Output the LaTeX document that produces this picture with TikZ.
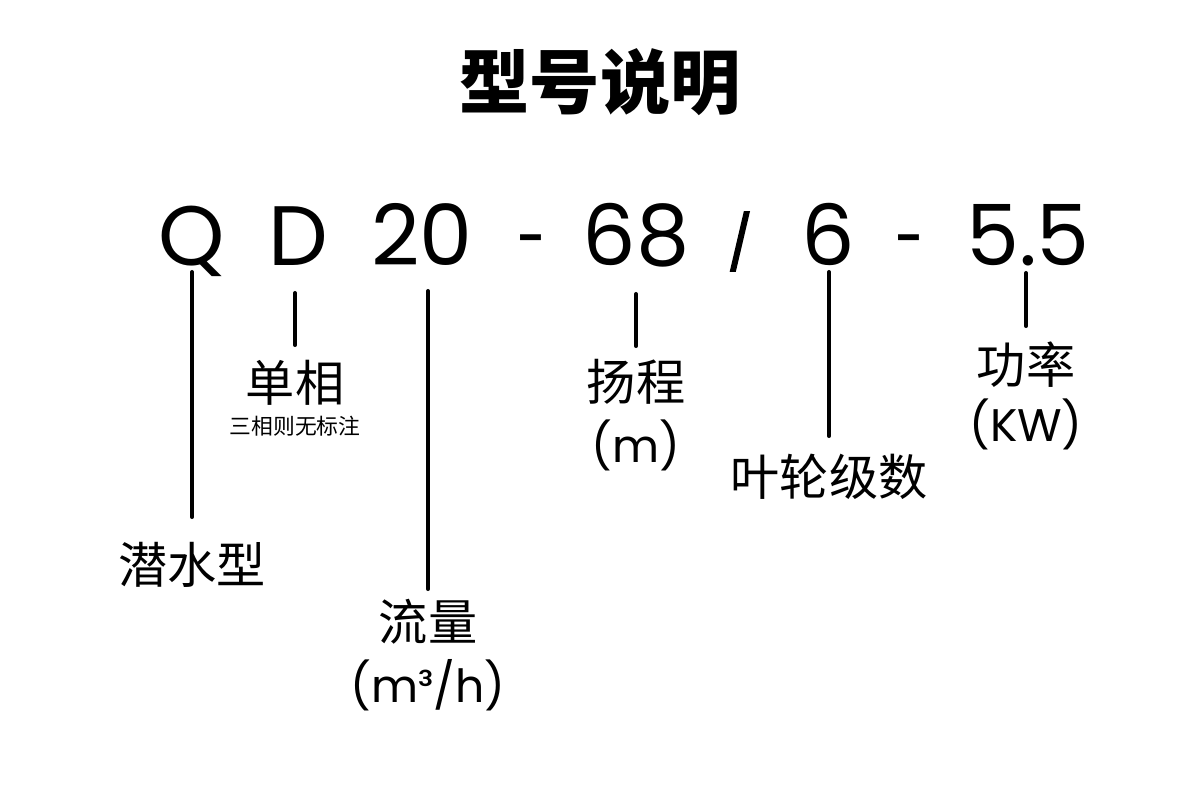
\documentclass[tikz,border=0pt]{standalone}
\usepackage{fontspec}
\setmainfont{Poppins}
\newfontfamily\cjk{Noto Sans CJK SC}
\begin{document}
\begin{tikzpicture}[x=0.02cm,y=-0.02cm,
  big/.style={anchor=base,inner sep=0pt,font=\fontsize{48}{48}\selectfont},
  lab/.style={inner sep=0pt,font=\cjk\fontsize{28}{30}\selectfont},
  sub/.style={inner sep=0pt,font=\fontsize{26}{28}\selectfont},
  small/.style={inner sep=0pt,font=\cjk\fontsize{12.4}{13}\selectfont},
  lead/.style={line width=2.3pt,line cap=round}]
\useasboundingbox[fill=white] (0,0) rectangle (1200,799);
\node[inner sep=0pt,font=\cjk\bfseries\fontsize{40}{42}\selectfont] (title) at (600,82) {型号说明};
% code characters
\node[big] (q) at (192,265) {Q};
\node[big] (d) at (298,265) {D};
\node[big] (n20) at (422,265) {20};
\node[big] (h1) at (532,265) {\scalebox{0.62}[0.9]{-}};
\node[big] (n68) at (636,265) {68};
\node[big] (sl) at (740,262) {\scalebox{0.6}[0.63]{\addfontfeature{FakeBold=3}/}};
\node[big] (n6) at (828,265) {6};
\node[big] (h2) at (910,265) {\scalebox{0.62}[0.9]{-}};
\node[big] (n55) at (1028,265) {5.5};
% labels
\node[lab] (l1) at (192,565) {潜水型};
\node[lab] (l2) at (295,383) {单相};
\node[small] (l2s) at (295,426) {三相则无标注};
\node[lab] (l3) at (428,622) {流量};
\node[sub] (l3u) at (428,685) {(m³/h)};
\node[lab] (l4) at (636,382) {扬程};
\node[sub] (l4u) at (636,445) {(m)};
\node[lab] (l5) at (829,477) {叶轮级数};
\node[lab] (l6) at (1026,365) {功率};
\node[sub] (l6u) at (1026,424) {(KW)};
% leader lines
\coordinate (a1) at (192,272); \coordinate (b1) at (192,517);
\coordinate (a2) at (295,293); \coordinate (b2) at (295,345);
\coordinate (a3) at (428,291); \coordinate (b3) at (428,589);
\coordinate (a4) at (636,294); \coordinate (b4) at (636,346);
\coordinate (a5) at (829,272); \coordinate (b5) at (829,436);
\coordinate (a6) at (1026,273); \coordinate (b6) at (1026,326);
\draw[lead] (a1) -- (b1);
\draw[lead] (a2) -- (b2);
\draw[lead] (a3) -- (b3);
\draw[lead] (a4) -- (b4);
\draw[lead] (a5) -- (b5);
\draw[lead] (a6) -- (b6);
\end{tikzpicture}
\end{document}
